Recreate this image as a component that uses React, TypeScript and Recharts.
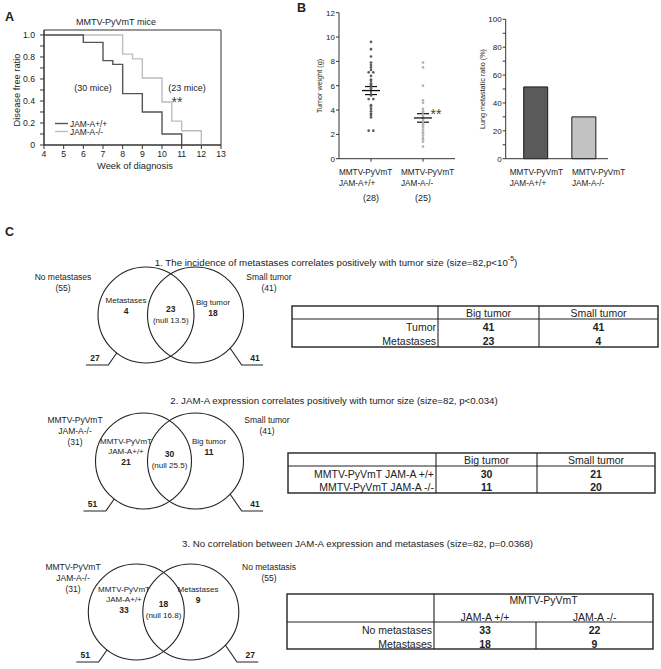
import React from 'react';
import {
  LineChart,
  Line,
  XAxis,
  YAxis,
  ReferenceArea,
  ScatterChart,
  Scatter,
  ErrorBar,
  BarChart,
  Bar,
  Cell,
} from 'recharts';

const FONT = '"Liberation Sans", Arial, Helvetica, sans-serif';
const INK = '#222';

// A: disease-free ratio, step points (week, ratio)
const dfsWeeksWt = [4, 6, 7, 7.5, 8, 9, 10, 11];
const dfsRatioWt = [1, 0.933, 0.767, 0.733, 0.467, 0.3, 0.1, 0];
const dfsWeeksKo = [4, 8, 8.5, 9, 10, 10.5, 11, 12];
const dfsRatioKo = [1, 0.826, 0.783, 0.609, 0.391, 0.217, 0.13, 0];
const weekTicks = [4, 5, 6, 7, 8, 9, 10, 11, 12, 13];
const ratioTicks = [0, 0.1, 0.2, 0.3, 0.4, 0.5, 0.6, 0.7, 0.8, 0.9, 1.0];

// B: tumor weight (g) per mouse
const weightWt = [9.6, 9.0, 8.4, 7.9, 7.7, 7.5, 7.3, 7.1, 7.1, 6.8, 6.5, 6.4, 6.2, 6.1, 6.0, 5.8, 5.2, 4.9, 4.9, 4.4, 4.3, 4.1, 3.9, 3.7, 3.4, 3.6, 2.3, 2.3];
const weightKo = [7.9, 7.5, 6.0, 4.8, 4.6, 4.1, 3.9, 3.8, 3.6, 3.5, 3.3, 3.2, 3.1, 2.9, 2.8, 2.7, 2.6, 2.4, 2.2, 2.1, 1.9, 1.7, 1.6, 1.4, 1.0];
const weightMean = [5.6, 3.35];
const weightSem = [0.33, 0.35];
const groupKeys = ['wt', 'ko'];
const groupLines = [['MMTV-PyVmT', 'JAM-A+/+'], ['MMTV-PyVmT', 'JAM-A-/-']];
const groupCounts = ['(28)', '(25)'];
const weightTicks = [0, 2, 4, 6, 8, 10, 12];

// B: lung metastatic ratio (%)
const lungMetRatio = [51.5, 30];
const lungTicks = [0, 10, 20, 30, 40, 50, 60, 70, 80, 90, 100];

// C: venn counts
const vennTitleMain = [
  '1. The incidence of metastases correlates positively with tumor size (size=82,p<10',
  '2. JAM-A expression correlates positively with tumor size (size=82, p<0.034)',
  '3. No correlation between JAM-A expression and metastases (size=82, p=0.0368)',
];
const vennTitleSup = ['-5', '', ''];
const vennTitleTail = [')', '', ''];
const vennOuterLeft = [['No metastases', '(55)'], ['MMTV-PyVmT', 'JAM-A-/-', '(31)'], ['MMTV-PyVmT', 'JAM-A-/-', '(31)']];
const vennOuterRight = [['Small tumor', '(41)'], ['Small tumor', '(41)'], ['No metastasis', '(55)']];
const vennLeftName = [['Metastases'], ['MMTV-PyVmT', 'JAM-A+/+'], ['MMTV-PyVmT', 'JAM-A+/+']];
const vennRightName = [['Big tumor'], ['Big tumor'], ['Metastases']];
const vennLeftOnly = [4, 21, 33];
const vennRightOnly = [18, 11, 9];
const vennOverlap = [23, 30, 18];
const vennNull = [13.5, 25.5, 16.8];
const vennCalloutL = [27, 51, 51];
const vennCalloutR = [41, 41, 27];

// C: contingency tables
const t1Cols = ['Big tumor', 'Small tumor'];
const t1Rows = ['Tumor', 'Metastases'];
const t1Vals = [[41, 41], [23, 4]];
const t2Cols = ['Big tumor', 'Small tumor'];
const t2Rows = ['MMTV-PyVmT JAM-A +/+', 'MMTV-PyVmT JAM-A -/-'];
const t2Vals = [[30, 21], [11, 20]];
const t3Group = 'MMTV-PyVmT';
const t3Cols = ['JAM-A +/+', 'JAM-A -/-'];
const t3Rows = ['No metastases', 'Metastases'];
const t3Vals = [[33, 22], [18, 9]];

// layout only
const vennLayout = [
  { cy: 315, lc: 146, rc: 195.5, tx: 336, ty: 262, olx: 63, oly: 277, orx: 269, ory: 277, lx: 126, ly: 300, rx: 213, ry: 302, mid: -6 },
  { cy: 461, lc: 143.5, rc: 195.5, tx: 334, ty: 400, olx: 75, oly: 420, orx: 267, ory: 420, lx: 126, ly: 441, rx: 209, ry: 441, mid: -7 },
  { cy: 612, lc: 136.3, rc: 190.8, tx: 357.5, ty: 543, olx: 73, oly: 567, orx: 269, ory: 567, lx: 124, ly: 589, rx: 198, ry: 589, mid: -8 },
];

const toPoints = (xs: number[], ys: number[]) => xs.map((x, i) => ({ x, y: ys[i] }));

// duplicates sit side by side, like the original dot plot
function spread(values: number[], group: number) {
  const count: Record<string, number> = {};
  values.forEach(v => (count[v.toFixed(1)] = (count[v.toFixed(1)] ?? 0) + 1));
  const seen: Record<string, number> = {};
  return values.map(v => {
    const k = v.toFixed(1);
    const n = (seen[k] = (seen[k] ?? 0) + 1);
    const off = count[k] > 1 ? (n === 1 ? -0.045 : 0.045) : 0;
    return { x: group + off, y: v };
  });
}

const tickStyle = (size: number) => ({ fontSize: size, fill: INK, fontFamily: FONT });

// two-line group label (+ optional n) under each category
function GroupTick(props: any) {
  const { x, y, payload, withCount, shift } = props;
  const v = payload?.value;
  const idx = typeof v === 'number' ? v - 1 : groupKeys.indexOf(v);
  if (idx < 0) return null;
  const sx = x + (shift?.[idx] ?? -28);
  return (
    <g fontFamily={FONT} fill={INK}>
      {groupLines[idx].map((l: string, i: number) => (
        <text key={l} x={sx} y={y + 8.3 + i * 11} fontSize={8.2} dominantBaseline="central">
          {l}
        </text>
      ))}
      {withCount && (
        <text x={x} y={y + 34.3} fontSize={9} textAnchor="middle" dominantBaseline="central">
          {groupCounts[idx]}
        </text>
      )}
    </g>
  );
}

function Dot(color: string) {
  return (p: any) => <circle cx={p.cx} cy={p.cy} r={1.35} fill={color} />;
}

const MeanBar = (p: any) => (
  <line x1={p.cx - 9} x2={p.cx + 9} y1={p.cy} y2={p.cy} stroke="#111" strokeWidth={1.3} />
);

function PanelA() {
  return (
    <div style={{ position: 'absolute', left: 0, top: 0 }}>
      <LineChart width={230} height={180} margin={{ top: 30, right: 9, bottom: 0, left: 0 }}>
        <XAxis
          type="number"
          dataKey="x"
          domain={[4, 13]}
          ticks={weekTicks}
          height={35}
          tickSize={4}
          tick={tickStyle(8.7)}
          stroke="#333"
          allowDuplicatedCategory={false}
        />
        <YAxis
          type="number"
          dataKey="y"
          domain={[0, 1.045]}
          ticks={ratioTicks}
          width={44}
          tickSize={4}
          tickMargin={5}
          tick={tickStyle(8.7)}
          stroke="#333"
          tickFormatter={v => (Math.round(v * 10) % 2 === 0 ? (v === 0 ? '0' : v.toFixed(1)) : '')}
        />
        <ReferenceArea x1={4} x2={13} y1={0} y2={1.045} fill="none" stroke="#333" strokeWidth={1} />
        <Line
          data={toPoints(dfsWeeksKo, dfsRatioKo)}
          dataKey="y"
          type="stepAfter"
          stroke="#bdbdbd"
          strokeWidth={1.4}
          dot={false}
          isAnimationActive={false}
        />
        <Line
          data={toPoints(dfsWeeksWt, dfsRatioWt)}
          dataKey="y"
          type="stepAfter"
          stroke="#555"
          strokeWidth={1.4}
          dot={false}
          isAnimationActive={false}
        />
      </LineChart>
    </div>
  );
}

function PanelBWeight() {
  const means = weightMean.map((m, i) => ({ x: i + 1, y: m, err: weightSem[i] }));
  return (
    <div style={{ position: 'absolute', left: 300, top: 0 }}>
      <ScatterChart width={160} height={212} margin={{ top: 12.7, right: 5, bottom: 0, left: 0 }}>
        <XAxis
          type="number"
          dataKey="x"
          domain={[0.385, 2.615]}
          ticks={[1, 2]}
          interval={0}
          height={53.3}
          tickSize={3}
          tickMargin={2}
          stroke="#333"
          tick={<GroupTick withCount shift={[-32, -22]} />}
        />
        <YAxis
          type="number"
          dataKey="y"
          domain={[0, 12]}
          ticks={weightTicks}
          width={39}
          tickSize={3}
          tickMargin={1}
          stroke="#333"
          tick={tickStyle(8)}
        />
        <Scatter data={spread(weightWt, 1)} shape={Dot('#5e5e5e')} isAnimationActive={false} />
        <Scatter data={spread(weightKo, 2)} shape={Dot('#b3b3b3')} isAnimationActive={false} />
        <Scatter data={means} shape={MeanBar} isAnimationActive={false}>
          <ErrorBar dataKey="err" direction="y" width={6} stroke="#111" strokeWidth={1.2} />
        </Scatter>
      </ScatterChart>
    </div>
  );
}

function PanelBLung() {
  const data = lungMetRatio.map((v, i) => ({ name: groupKeys[i], v }));
  return (
    <div style={{ position: 'absolute', left: 460, top: 0 }}>
      <BarChart data={data} width={190} height={200} margin={{ top: 19.3, right: 42, bottom: 0, left: 0 }}>
        <XAxis
          dataKey="name"
          height={41.3}
          interval={0}
          padding={{ left: 6, right: 0 }}
          tickSize={0}
          tickMargin={5}
          stroke="#333"
          tick={<GroupTick shift={[-26, -12]} />}
        />
        <YAxis
          type="number"
          domain={[0, 100]}
          ticks={lungTicks}
          width={45.7}
          tickSize={3}
          tickMargin={1}
          stroke="#333"
          tick={tickStyle(8)}
          tickFormatter={v => (v % 20 === 0 ? String(v) : '')}
        />
        <Bar dataKey="v" barSize={24} stroke="#1a1a1a" strokeWidth={1} isAnimationActive={false}>
          <Cell fill="#5a5a5a" />
          <Cell fill="#c2c2c2" />
        </Bar>
      </BarChart>
    </div>
  );
}

function Venn({ i }: { i: number }) {
  const L = vennLayout[i];
  const { cy, lc, rc } = L;
  const mx = (lc + rc) / 2;
  return (
    <g fontFamily={FONT} fill={INK}>
      <text x={L.tx} y={L.ty} fontSize={9.7} textAnchor="middle" dominantBaseline="central">
        {vennTitleMain[i]}
        {vennTitleSup[i] && (
          <tspan dy={-3.8} fontSize={7}>
            {vennTitleSup[i]}
          </tspan>
        )}
        {vennTitleTail[i] && <tspan dy={3.8}>{vennTitleTail[i]}</tspan>}
      </text>
      <circle cx={lc} cy={cy} r={48} fill="none" stroke={INK} strokeWidth={1.1} />
      <circle cx={rc} cy={cy} r={48} fill="none" stroke={INK} strokeWidth={1.1} />
      {vennOuterLeft[i].map((t, k) => (
        <text key={'ol' + k} x={L.olx} y={L.oly + k * 11} fontSize={8.5} textAnchor="middle" dominantBaseline="central">
          {t}
        </text>
      ))}
      {vennOuterRight[i].map((t, k) => (
        <text key={'or' + k} x={L.orx} y={L.ory + k * 11} fontSize={8.5} textAnchor="middle" dominantBaseline="central">
          {t}
        </text>
      ))}
      {vennLeftName[i].map((t, k) => (
        <text key={'ln' + k} x={L.lx} y={L.ly + k * 10.3} fontSize={8} textAnchor="middle" dominantBaseline="central">
          {t}
        </text>
      ))}
      <text x={L.lx} y={L.ly + vennLeftName[i].length * 10.5} fontSize={8.5} fontWeight="bold" textAnchor="middle" dominantBaseline="central">
        {vennLeftOnly[i]}
      </text>
      {vennRightName[i].map((t, k) => (
        <text key={'rn' + k} x={L.rx} y={L.ry + k * 10.3} fontSize={8} textAnchor="middle" dominantBaseline="central">
          {t}
        </text>
      ))}
      <text x={L.rx} y={L.ry + vennRightName[i].length * 10.5} fontSize={8.5} fontWeight="bold" textAnchor="middle" dominantBaseline="central">
        {vennRightOnly[i]}
      </text>
      <text x={mx} y={cy + L.mid} fontSize={8.5} fontWeight="bold" textAnchor="middle" dominantBaseline="central">
        {vennOverlap[i]}
      </text>
      <text x={mx} y={cy + L.mid + 11} fontSize={8} textAnchor="middle" dominantBaseline="central">
        (null {vennNull[i]})
      </text>
      <polyline
        points={`${lc - 29.3},${cy + 38} ${lc - 37.7},${cy + 50} ${lc - 60},${cy + 50}`}
        fill="none"
        stroke={INK}
        strokeWidth={1.1}
      />
      <polyline
        points={`${rc + 34.5},${cy + 33} ${rc + 46.2},${cy + 50} ${rc + 67.5},${cy + 50}`}
        fill="none"
        stroke={INK}
        strokeWidth={1.1}
      />
      <text x={lc - 51} y={cy + 43} fontSize={8.5} fontWeight="bold" textAnchor="middle" dominantBaseline="central">
        {vennCalloutL[i]}
      </text>
      <text x={rc + 59.5} y={cy + 43} fontSize={8.5} fontWeight="bold" textAnchor="middle" dominantBaseline="central">
        {vennCalloutR[i]}
      </text>
    </g>
  );
}

interface TableProps {
  x0: number; x1: number; y0: number; yd: number; y1: number; c1: number; c2: number;
  headY: number[]; rowY: number[];
  cols: string[]; rows: string[]; vals: number[][]; group?: string;
}

function Table({ x0, x1, y0, yd, y1, c1, c2, headY, rowY, cols, rows, vals, group }: TableProps) {
  const centers = [(c1 + c2) / 2, (c2 + x1) / 2];
  const fs = 10.5;
  return (
    <g fontFamily={FONT} fill={INK}>
      <rect x={x0} y={y0} width={x1 - x0} height={y1 - y0} fill="none" stroke={INK} strokeWidth={1.4} />
      <line x1={x0} x2={x1} y1={yd} y2={yd} stroke={INK} strokeWidth={1.1} />
      <line x1={c1} x2={c1} y1={y0} y2={y1} stroke={INK} strokeWidth={1.1} />
      <line x1={c2} x2={c2} y1={group ? yd : y0} y2={y1} stroke={INK} strokeWidth={1.1} />
      {group && (
        <text x={(c1 + x1) / 2} y={headY[0]} fontSize={fs} textAnchor="middle" dominantBaseline="central">
          {group}
        </text>
      )}
      {cols.map((c, k) => (
        <text key={c} x={centers[k]} y={group ? headY[1] : headY[0]} fontSize={fs} textAnchor="middle" dominantBaseline="central">
          {c}
        </text>
      ))}
      {rows.map((r, k) => (
        <g key={r}>
          <text x={c1 - 2} y={rowY[k]} fontSize={fs} textAnchor="end" dominantBaseline="central">
            {r}
          </text>
          {vals[k].map((v, j) => (
            <text key={j} x={centers[j]} y={rowY[k]} fontSize={fs} fontWeight="bold" textAnchor="middle" dominantBaseline="central">
              {v}
            </text>
          ))}
        </g>
      ))}
    </g>
  );
}

export default function App() {
  return (
    <div style={{ position: 'absolute', left: 0, top: 0, width: 661, height: 669, background: '#fff', fontFamily: FONT }}>
      <PanelA />
      <PanelBWeight />
      <PanelBLung />
      <svg width={661} height={669} style={{ position: 'absolute', left: 0, top: 0, pointerEvents: 'none' }}>
        <g fontFamily={FONT} fill={INK}>
          {/* panel letters */}
          <text x={5} y={17} fontSize={12.5} fontWeight="bold" dominantBaseline="central">A</text>
          <text x={297} y={8} fontSize={12.5} fontWeight="bold" dominantBaseline="central">B</text>
          <text x={5} y={232} fontSize={12.5} fontWeight="bold" dominantBaseline="central">C</text>

          {/* A annotations */}
          <text x={116} y={22} fontSize={9} textAnchor="middle" dominantBaseline="central">MMTV-PyVmT mice</text>
          <text x={93} y={88} fontSize={9} textAnchor="middle" dominantBaseline="central">(30 mice)</text>
          <text x={187} y={88} fontSize={9} textAnchor="middle" dominantBaseline="central">(23 mice)</text>
          <text x={177} y={107} fontSize={14} textAnchor="middle" fill="#444">**</text>
          <line x1={55} x2={68} y1={123.5} y2={123.5} stroke="#555" strokeWidth={1.4} />
          <line x1={55} x2={68} y1={131.5} y2={131.5} stroke="#bdbdbd" strokeWidth={1.4} />
          <text x={70} y={123.5} fontSize={8.4} dominantBaseline="central">JAM-A+/+</text>
          <text x={70} y={132} fontSize={8.4} dominantBaseline="central">JAM-A-/-</text>
          <text x={17} y={90} fontSize={9.3} textAnchor="middle" dominantBaseline="central" transform="rotate(-90 17 90)">
            Disease free ratio
          </text>
          <text x={135} y={166} fontSize={9.3} textAnchor="middle" dominantBaseline="central">Week of diagnosis</text>

          {/* B annotations */}
          <text x={436} y={119} fontSize={14} textAnchor="middle" fill="#444">**</text>
          <text x={319} y={86} fontSize={7.2} textAnchor="middle" dominantBaseline="central" transform="rotate(-90 319 86)">
            Tumor weight (g)
          </text>
          <text x={482} y={89} fontSize={7.2} textAnchor="middle" dominantBaseline="central" transform="rotate(-90 482 89)">
            Lung metastatic ratio (%)
          </text>
        </g>

        <Venn i={0} />
        <Venn i={1} />
        <Venn i={2} />

        <Table x0={292} x1={658} y0={306} yd={319} y1={347} c1={438} c2={539} headY={[312.5]} rowY={[327, 341]} cols={t1Cols} rows={t1Rows} vals={t1Vals} />
        <Table x0={288} x1={655} y0={453} yd={466} y1={493} c1={436} c2={537} headY={[459.5]} rowY={[474, 487]} cols={t2Cols} rows={t2Rows} vals={t2Vals} />
        <Table x0={287} x1={653} y0={594} yd={622} y1={649} c1={434} c2={536} headY={[599.5, 616.5]} rowY={[630, 644]} cols={t3Cols} rows={t3Rows} vals={t3Vals} group={t3Group} />
      </svg>
    </div>
  );
}
